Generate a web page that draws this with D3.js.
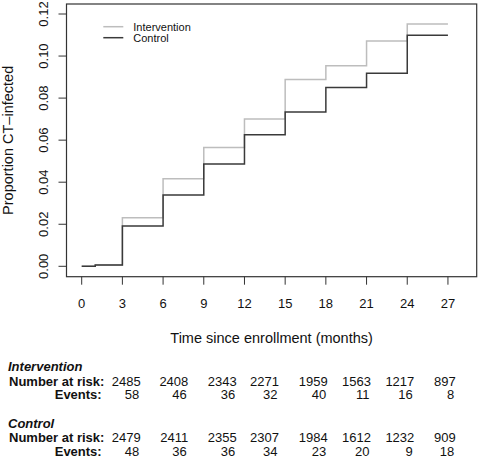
<!DOCTYPE html>
<html>
<head>
<meta charset="utf-8">
<script src="https://cdn.jsdelivr.net/npm/d3@7"></script>
<style>
  html, body { margin: 0; padding: 0; background: #fff; }
  svg { display: block; font-family: "Liberation Sans", Arial, Helvetica, sans-serif; }
</style>
</head>
<body>
<svg id="chart" width="478" height="458"></svg>
<script>
// ---- data ----
const times = [0, 1, 3, 6, 9, 12, 15, 18, 21, 24, 27];
const intervention = [0, 0.0006, 0.0231, 0.0417, 0.0565, 0.0701, 0.0888, 0.0954, 0.1072, 0.1152, 0.1152];
const control = [0, 0.0006, 0.0192, 0.0339, 0.0487, 0.0626, 0.0734, 0.0850, 0.0918, 0.1099, 0.1099];
const xTicks = [0, 3, 6, 9, 12, 15, 18, 21, 24, 27];
const yTicks = [0, 0.02, 0.04, 0.06, 0.08, 0.10, 0.12];
const seriesNames = ["Intervention", "Control"];
const intRisk = [2485, 2408, 2343, 2271, 1959, 1563, 1217, 897];
const intEvents = [58, 46, 36, 32, 40, 11, 16, 8];
const ctlRisk = [2479, 2411, 2355, 2307, 1984, 1612, 1232, 909];
const ctlEvents = [48, 36, 36, 34, 23, 20, 9, 18];

// ---- layout ----
const box = { left: 66.5, right: 476.7, top: 4, bottom: 276.7 };
const colRight = [140.7, 188.3, 236.7, 279, 327.7, 371, 414.3, 455.7];
const colors = { intervention: "#bdbdbd", control: "#3a3a3a", axis: "#333" };

const svg = d3.select("#chart");

const x = d3.scaleLinear().domain([-1.12, 29.12]).range([box.left, box.right]);
const y = d3.scaleLinear().domain([0, 0.12]).range([266.3, 14]);

// box
svg.append("rect")
  .attr("x", box.left).attr("y", box.top)
  .attr("width", box.right - box.left).attr("height", box.bottom - box.top)
  .attr("fill", "none").attr("stroke", colors.axis).attr("stroke-width", 1.2);

// x axis ticks
const xg = svg.append("g");
xg.selectAll("line").data(xTicks).join("line")
  .attr("x1", d => x(d)).attr("x2", d => x(d))
  .attr("y1", box.bottom).attr("y2", box.bottom + 8)
  .attr("stroke", colors.axis).attr("stroke-width", 1);
xg.selectAll("text").data(xTicks).join("text")
  .attr("x", d => x(d)).attr("y", 303.3).attr("dy", "0.35em")
  .attr("text-anchor", "middle").attr("font-size", 13).attr("fill", "#111")
  .text(d => d);

// y axis ticks
const yg = svg.append("g");
yg.selectAll("line").data(yTicks).join("line")
  .attr("x1", box.left - 8).attr("x2", box.left)
  .attr("y1", d => y(d)).attr("y2", d => y(d))
  .attr("stroke", colors.axis).attr("stroke-width", 1);
yg.selectAll("text").data(yTicks).join("text")
  .attr("transform", d => `translate(43.3,${y(d)}) rotate(-90)`)
  .attr("dy", "0.35em")
  .attr("text-anchor", "middle").attr("font-size", 13).attr("fill", "#111")
  .text(d => d3.format(".2f")(d));

// axis titles
svg.append("text")
  .attr("x", (box.left + box.right) / 2).attr("y", 338).attr("dy", "0.35em")
  .attr("text-anchor", "middle").attr("font-size", 14.5).attr("fill", "#111")
  .text("Time since enrollment (months)");
svg.append("text")
  .attr("transform", `translate(7.5,${(box.top + box.bottom) / 2}) rotate(-90)`)
  .attr("dy", "0.35em")
  .attr("text-anchor", "middle").attr("font-size", 14.5).attr("fill", "#111")
  .text("Proportion CT\u2013infected");

// step lines
const line = d3.line()
  .x(d => x(d[0])).y(d => y(d[1]))
  .curve(d3.curveStepAfter);
svg.append("path")
  .attr("d", line(times.map((t, i) => [t, intervention[i]])))
  .attr("fill", "none").attr("stroke", colors.intervention).attr("stroke-width", 1.5);
svg.append("path")
  .attr("d", line(times.map((t, i) => [t, control[i]])))
  .attr("fill", "none").attr("stroke", colors.control).attr("stroke-width", 1.5);

// legend
const leg = svg.append("g");
const legColors = [colors.intervention, colors.control];
const legY = [26.7, 37.7];
seriesNames.forEach((name, i) => {
  leg.append("line")
    .attr("x1", 103.3).attr("x2", 123.3)
    .attr("y1", legY[i]).attr("y2", legY[i])
    .attr("stroke", legColors[i]).attr("stroke-width", 1.5);
  leg.append("text")
    .attr("x", 133.3).attr("y", legY[i]).attr("dy", "0.35em")
    .attr("font-size", 11).attr("fill", "#111")
    .text(name);
});

// risk table
function block(title, risk, events, yTitle) {
  const g = svg.append("g").attr("font-size", 13).attr("fill", "#111");
  g.append("text").attr("x", 8).attr("y", yTitle).attr("dy", "0.35em")
    .attr("font-weight", "bold").attr("font-style", "italic").text(title);
  g.append("text").attr("x", 9).attr("y", yTitle + 14.3).attr("dy", "0.35em")
    .attr("font-weight", "bold").text("Number at risk:");
  g.append("text").attr("x", 101.7).attr("y", yTitle + 28).attr("dy", "0.35em")
    .attr("text-anchor", "end").attr("font-weight", "bold").text("Events:");
  g.selectAll("text.risk").data(risk).join("text").attr("class", "risk")
    .attr("x", (d, i) => colRight[i]).attr("y", yTitle + 14.3).attr("dy", "0.35em")
    .attr("text-anchor", "end").text(d => d);
  g.selectAll("text.ev").data(events).join("text").attr("class", "ev")
    .attr("x", (d, i) => colRight[i] - 1.5).attr("y", yTitle + 28).attr("dy", "0.35em")
    .attr("text-anchor", "end").text(d => d);
}
block(seriesNames[0], intRisk, intEvents, 366.7);
block(seriesNames[1], ctlRisk, ctlEvents, 423);
</script>
</body>
</html>
